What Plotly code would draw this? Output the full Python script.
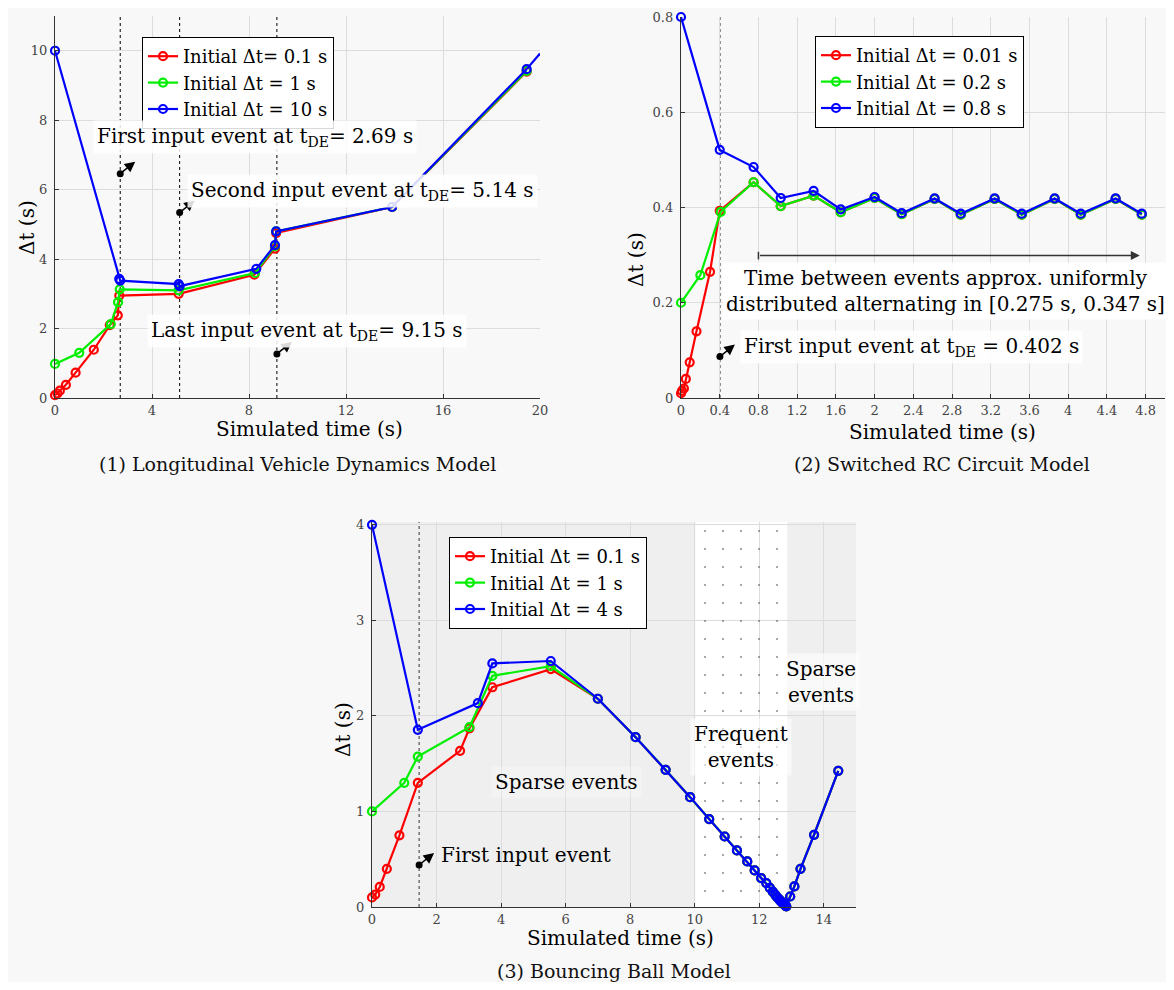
import plotly.graph_objects as go

# ---- (1) Longitudinal vehicle dynamics ----
red1_t = [0, 0.1, 0.2, 0.45, 0.85, 1.6, 2.26, 2.59, 2.65, 5.1, 8.22, 9.07, 9.12, 13.9, 19.45]
red1_dt = [0.08, 0.13, 0.21, 0.38, 0.73, 1.39, 2.1, 2.38, 2.95, 3.0, 3.55, 4.3, 4.75, 5.5, 9.4]
green1_t = [0, 1.0, 2.3, 2.6, 2.67, 5.1, 8.25, 9.07, 9.12, 13.9, 19.45]
green1_dt = [0.98, 1.3, 2.13, 2.76, 3.13, 3.1, 3.6, 4.37, 4.8, 5.5, 9.42]
blue1_t = [0, 2.65, 2.69, 5.1, 5.14, 8.3, 9.07, 9.12, 13.9, 19.45]
blue1_dt = [10, 3.43, 3.38, 3.28, 3.22, 3.72, 4.4, 4.8, 5.5, 9.47]
end1_t = [19.45, 20]
end1_dt = [9.47, 9.92]
events1 = [2.69, 5.14, 9.15]
event_dots1 = [6.46, 5.34, 1.27]

# ---- (2) Switched RC circuit ----
tail2_t = [0.75, 1.03, 1.37, 1.65, 2.0, 2.28, 2.62, 2.89, 3.24, 3.52, 3.86, 4.13, 4.49, 4.76]
tail2_dt = [0.453, 0.403, 0.425, 0.39, 0.42, 0.386, 0.418, 0.385, 0.418, 0.385, 0.418, 0.385, 0.418, 0.385]
red2_t = [0, 0.01, 0.03, 0.05, 0.09, 0.16, 0.3, 0.4] + tail2_t
red2_dt = [0.01, 0.015, 0.02, 0.04, 0.075, 0.14, 0.265, 0.393] + tail2_dt
green2_t = [0, 0.2, 0.41] + tail2_t
green2_dt = [0.2, 0.258, 0.391] + tail2_dt
blue2_t = [0, 0.4, 0.75, 1.03, 1.37, 1.65, 2.0, 2.28, 2.62, 2.89, 3.24, 3.52, 3.86, 4.13, 4.49, 4.76]
blue2_dt = [0.8, 0.521, 0.485, 0.42, 0.435, 0.396, 0.422, 0.388, 0.419, 0.387, 0.419, 0.387, 0.419, 0.387, 0.419, 0.387]
event2 = 0.402
event_dot2 = 0.087
uniform_span2 = [0.80, 4.74]
uniform_level2 = 0.299

# ---- (3) Bouncing ball ----
tail3_t = [7.0, 8.17, 9.1, 9.86, 10.45, 10.93, 11.31, 11.63, 11.86, 12.06, 12.22, 12.33, 12.42,
           12.5, 12.56, 12.62, 12.66, 12.7, 12.73, 12.76, 12.78, 12.8, 12.82, 12.84, 12.96,
           13.09, 13.28, 13.7, 14.45]
tail3_dt = [2.18, 1.778, 1.436, 1.15, 0.92, 0.738, 0.592, 0.477, 0.383, 0.303, 0.25, 0.2, 0.16,
            0.128, 0.1, 0.08, 0.064, 0.05, 0.04, 0.032, 0.025, 0.02, 0.012, 0.006, 0.11,
            0.215, 0.4, 0.756, 1.425]
red3_t = [0, 0.1, 0.24, 0.46, 0.85, 1.42, 2.73, 3.02, 3.73, 5.54] + tail3_t
red3_dt = [0.1, 0.13, 0.21, 0.4, 0.75, 1.3, 1.635, 1.87, 2.3, 2.49] + tail3_dt
green3_t = [0, 1.0, 1.42, 3.02, 3.73, 5.54] + tail3_t
green3_dt = [1.0, 1.3, 1.575, 1.883, 2.42, 2.52] + tail3_dt
blue3_t = [0, 1.42, 3.28, 3.73, 5.54] + tail3_t
blue3_dt = [4.0, 1.855, 2.134, 2.55, 2.575] + tail3_dt
event3 = 1.46
event_dot3 = 0.44
frequent3 = [10.02, 12.87]

# page body keeps its 8px margin, so the figure is 16px smaller than the window
OFF = 8
W, H = 1174 - 2 * OFF, 990 - 2 * OFF
SERIF = "DejaVu Serif, Liberation Serif, serif"
RED, GREEN, BLUE = "#ff0000", "#00ee00", "#0000ff"


def px_x(p):
    return (p - OFF) / W


def px_y(p):
    return 1 - (p - OFF) / H


fig = go.Figure()


def add_series(t, dt, color, name, xa, ya, legend):
    fig.add_trace(go.Scatter(
        x=t, y=dt, name=name, mode="lines+markers", xaxis=xa, yaxis=ya, legend=legend,
        line=dict(color=color, width=2.2),
        marker=dict(symbol="circle-open", size=8, color=color, line=dict(width=2.2)),
        cliponaxis=False,
    ))


# frequent events pattern (panel 3)
fig.add_trace(go.Scatter(
    x=[frequent3[0], frequent3[1], frequent3[1], frequent3[0], frequent3[0]],
    y=[0, 0, 4.03, 4.03, 0], mode="none", fill="toself", xaxis="x3", yaxis="y3",
    fillcolor="rgba(0,0,0,0)", showlegend=False, hoverinfo="skip",
    fillpattern=dict(shape=".", fgcolor="#111", bgcolor="rgba(0,0,0,0)", size=18, solidity=0.009),
))

add_series(red1_t, red1_dt, RED, "Initial \u0394t= 0.1 s", "x", "y", "legend")
add_series(green1_t, green1_dt, GREEN, "Initial \u0394t = 1 s", "x", "y", "legend")
add_series(blue1_t, blue1_dt, BLUE, "Initial \u0394t = 10 s", "x", "y", "legend")
fig.add_trace(go.Scatter(x=end1_t, y=end1_dt, mode="lines", line=dict(color=BLUE, width=2.2),
                         showlegend=False, xaxis="x", yaxis="y", cliponaxis=False))

add_series(red2_t, red2_dt, RED, "Initial \u0394t = 0.01 s", "x2", "y2", "legend2")
add_series(green2_t, green2_dt, GREEN, "Initial \u0394t = 0.2 s", "x2", "y2", "legend2")
add_series(blue2_t, blue2_dt, BLUE, "Initial \u0394t = 0.8 s", "x2", "y2", "legend2")

add_series(red3_t, red3_dt, RED, "Initial \u0394t = 0.1 s", "x3", "y3", "legend3")
add_series(green3_t, green3_dt, GREEN, "Initial \u0394t = 1 s", "x3", "y3", "legend3")
add_series(blue3_t, blue3_dt, BLUE, "Initial \u0394t = 4 s", "x3", "y3", "legend3")

# event dots
for xs, ys, xa, ya in [(events1, event_dots1, "x", "y"), ([event2], [event_dot2], "x2", "y2"),
                       ([event3], [event_dot3], "x3", "y3")]:
    fig.add_trace(go.Scatter(x=xs, y=ys, mode="markers", marker=dict(color="black", size=7),
                             showlegend=False, xaxis=xa, yaxis=ya))

shapes = [
    dict(type="rect", xref="x3 domain", yref="y3 domain", x0=0, x1=1, y0=0, y1=1,
         fillcolor="#efefef", line=dict(width=0), layer="below"),
    dict(type="rect", xref="x3", yref="y3 domain", x0=frequent3[0], x1=frequent3[1], y0=0, y1=1,
         fillcolor="white", line=dict(width=0), layer="below"),
]
for ev in events1:
    shapes.append(dict(type="line", xref="x", yref="y domain", x0=ev, x1=ev, y0=0, y1=1,
                       line=dict(color="black", width=1, dash="dot"), layer="below"))
shapes.append(dict(type="line", xref="x2", yref="y2 domain", x0=event2, x1=event2, y0=0, y1=1,
                   line=dict(color="black", width=1, dash="dot"), layer="below"))
shapes.append(dict(type="line", xref="x3", yref="y3 domain", x0=event3, x1=event3, y0=0, y1=1,
                   line=dict(color="#333", width=1, dash="dot"), layer="below"))
# small tick at the start of the uniform-events arrow
shapes.append(dict(type="line", xref="x2", yref="y2", x0=uniform_span2[0], x1=uniform_span2[0],
                   y0=uniform_level2 - 0.008, y1=uniform_level2 + 0.008, line=dict(color="#333", width=1.5)))

TXT = dict(family=SERIF, size=20, color="black")
BOX = "rgba(255,255,255,0.85)"
annotations = []


def arrow(x, y, xa, ya):
    annotations.append(dict(x=x, y=y, xref=xa, yref=ya, text="", showarrow=True, xshift=15, yshift=12,
                            ax=-15, ay=12, arrowhead=2, arrowsize=1.4, arrowwidth=1.5,
                            arrowcolor="black", standoff=0, startstandoff=0))


def label(x, y, xa, ya, text, xanchor="left", bg=BOX, size=20):
    annotations.append(dict(x=x, y=y, xref=xa, yref=ya, text=text, showarrow=False, xanchor=xanchor,
                            yanchor="middle", font=dict(TXT, size=size), bgcolor=bg, borderpad=3))


def paper_text(cx, cy, text, size=20, angle=0, color="black"):
    annotations.append(dict(x=px_x(cx), y=px_y(cy), xref="paper", yref="paper", text=text, showarrow=False,
                            xanchor="center", yanchor="middle", textangle=angle,
                            font=dict(family=SERIF, size=size, color=color)))


for ev, dot in zip(events1, event_dots1):
    arrow(ev, dot, "x", "y")
label(1.57, 7.52, "x", "y", "First input event at t<sub>DE</sub>= 2.69 s")
label(5.44, 5.96, "x", "y", "Second input event at t<sub>DE</sub>= 5.14 s")
label(3.79, 1.93, "x", "y", "Last input event at t<sub>DE</sub>= 9.15 s")

annotations.append(dict(x=uniform_span2[1], y=uniform_level2, xref="x2", yref="y2", ax=uniform_span2[0],
                        ay=uniform_level2, axref="x2", ayref="y2", text="", showarrow=True,
                        arrowhead=2, arrowsize=1.2, arrowwidth=1.5, arrowcolor="#333"))
label(2.73, 0.225, "x2", "y2", "Time between events approx. uniformly<br>distributed alternating in [0.275 s, 0.347 s]",
      xanchor="center", bg="rgba(255,255,255,0.9)")
arrow(event2, event_dot2, "x2", "y2")
label(0.61, 0.108, "x2", "y2", "First input event at t<sub>DE</sub> = 0.402 s")

arrow(event3, event_dot3, "x3", "y3")
label(2.01, 0.545, "x3", "y3", "First input event", bg="rgba(0,0,0,0)")
label(6.03, 1.31, "x3", "y3", "Sparse events", xanchor="center", bg="rgba(255,255,255,0.25)")
label(11.45, 1.68, "x3", "y3", "Frequent<br>events", xanchor="center", bg="rgba(255,255,255,0.6)")
label(13.93, 2.36, "x3", "y3", "Sparse<br>events", xanchor="center", bg="rgba(255,255,255,0.6)")

# axis titles and captions
paper_text(309, 429, "Simulated time (s)")
paper_text(943, 432, "Simulated time (s)")
paper_text(620, 938, "Simulated time (s)")
paper_text(27, 228, "\u0394t (s)", angle=-90)
paper_text(636, 260, "\u0394t (s)", angle=-90)
paper_text(343, 730, "\u0394t (s)", angle=-90)
paper_text(297, 464, "(1) Longitudinal Vehicle Dynamics Model", size=19, color="#111")
paper_text(942, 464, "(2) Switched RC Circuit Model", size=19, color="#111")
paper_text(614, 971, "(3) Bouncing Ball Model", size=19, color="#111")

axis_common = dict(showgrid=True, gridcolor="#dcdcdc", gridwidth=1, zeroline=False, showline=True,
                   linecolor="#333", linewidth=1.3, ticks="inside", ticklen=4, tickcolor="#333",
                   automargin=False, tickfont=dict(family=SERIF, size=13, color="#444"))

legend_common = dict(bgcolor="white", bordercolor="black", borderwidth=1, xanchor="left", yanchor="top",
                     font=dict(family=SERIF, size=18, color="black"), itemwidth=30, tracegroupgap=0)

fig.update_layout(
    width=W, height=H, margin=dict(l=0, r=0, t=0, b=0, autoexpand=False),
    paper_bgcolor="#f8f8f8", plot_bgcolor="rgba(0,0,0,0)",
    font=dict(family=SERIF),
    xaxis=dict(axis_common, domain=[px_x(55), px_x(540)], range=[0, 20], dtick=4, anchor="y"),
    yaxis=dict(axis_common, domain=[px_y(398), px_y(16)], range=[0, 11], tickvals=[0, 2, 4, 6, 8, 10],
               anchor="x", ticklabelstandoff=4),
    xaxis2=dict(axis_common, domain=[px_x(681), px_x(1165)], range=[0, 5], dtick=0.4, tick0=0, anchor="y2"),
    yaxis2=dict(axis_common, domain=[px_y(398), px_y(17)], range=[0, 0.8], dtick=0.2, anchor="x2",
                ticklabelstandoff=4),
    xaxis3=dict(axis_common, domain=[px_x(372), px_x(856)], range=[0, 15], dtick=2, anchor="y3"),
    yaxis3=dict(axis_common, domain=[px_y(907), px_y(522)], range=[0, 4.03], dtick=1, anchor="x3",
                ticklabelstandoff=4),
    legend=dict(legend_common, x=px_x(142), y=px_y(37)),
    legend2=dict(legend_common, x=px_x(815), y=px_y(36)),
    legend3=dict(legend_common, x=px_x(449), y=px_y(537)),
    shapes=shapes, annotations=annotations, showlegend=True,
)

fig.write_html("out.html")
